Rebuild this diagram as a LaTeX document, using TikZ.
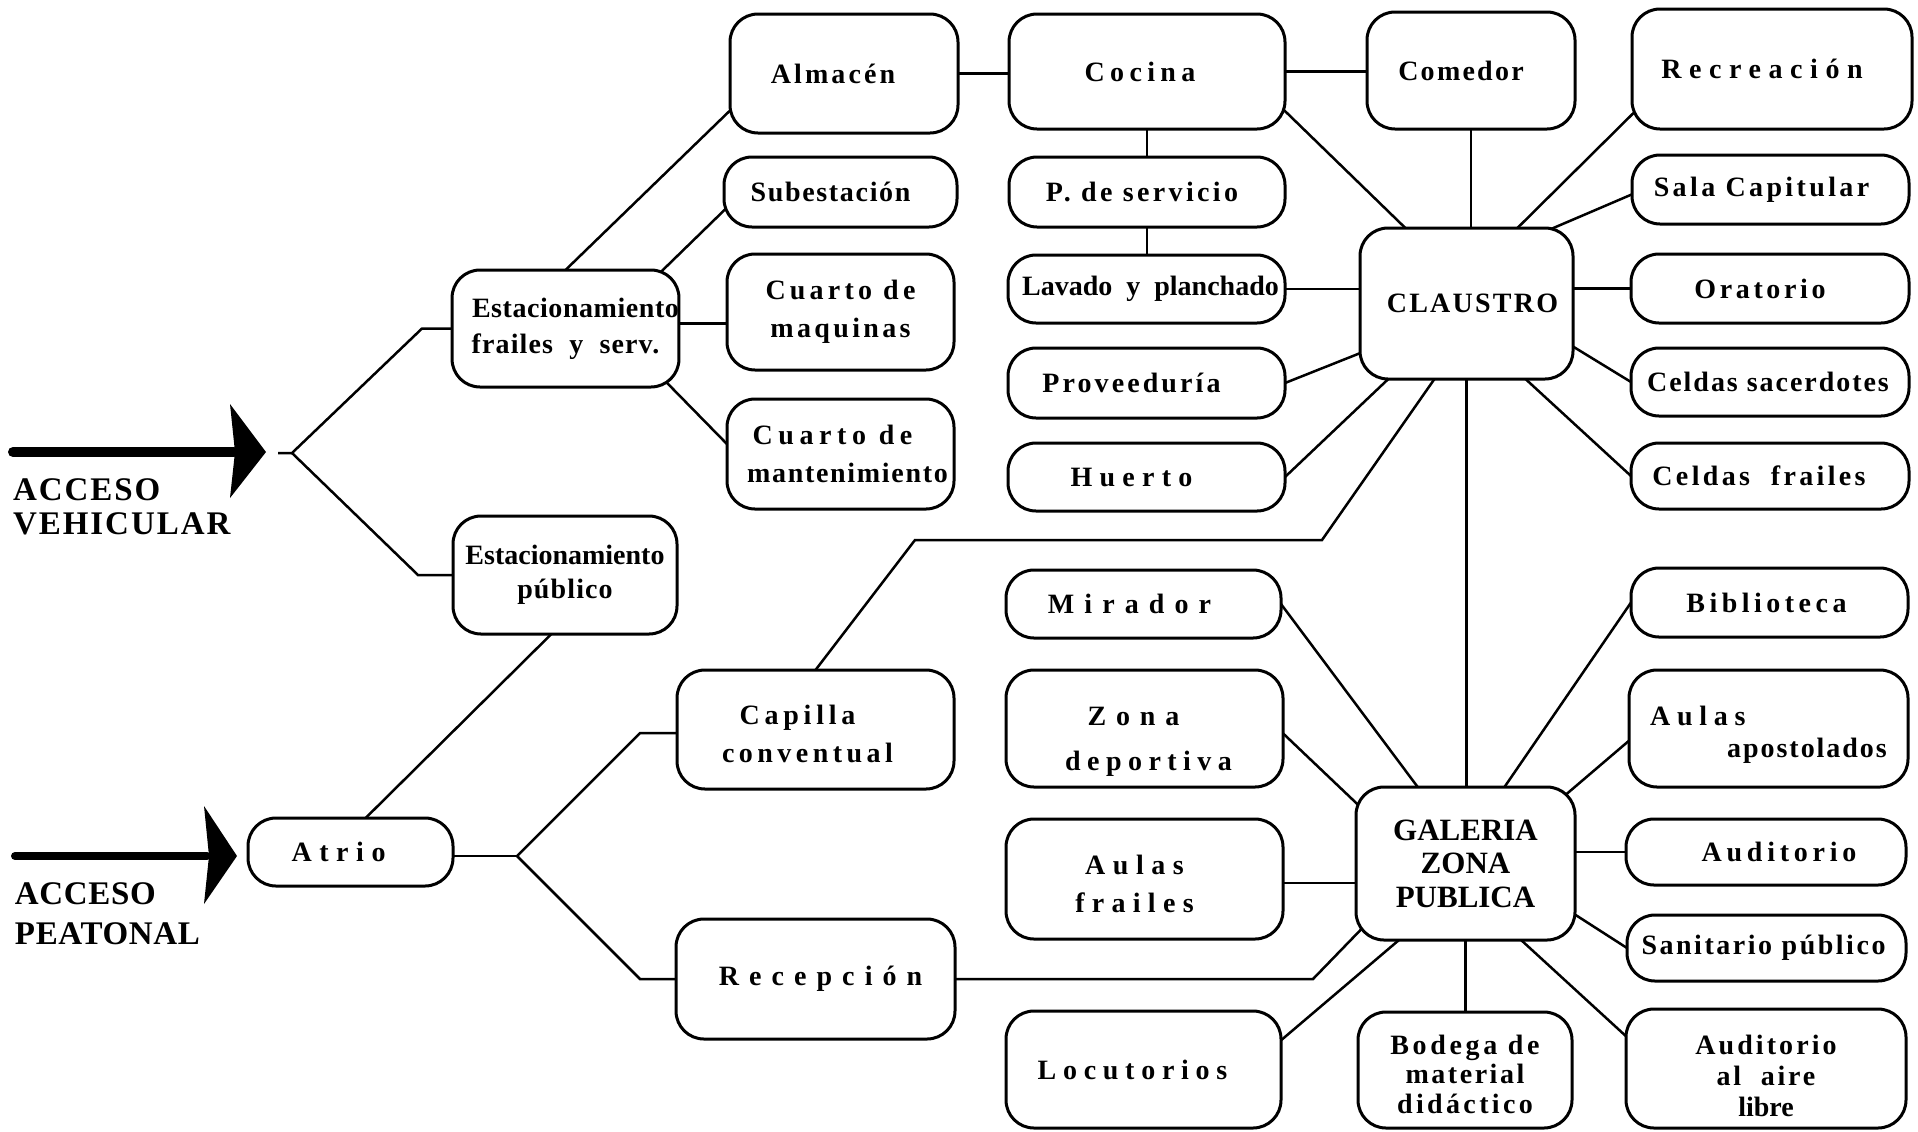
\documentclass[tikz,border=0pt]{standalone}
\usepackage{fontspec}
\setmainfont{Liberation Serif}
\usetikzlibrary{backgrounds,calc}
\newcommand\ls[1]{\addfontfeature{LetterSpace=#1}}
\newcommand\tl[2]{#2\hspace*{#1pt}}
\newcommand\tr[2]{\hspace*{#1pt}#2}
\newcommand\dn[1]{\rule{0pt}{#1pt}}
\newcommand\mybox[7][]{\node[bx,#1,minimum width={(#5-#3)*0.5pt},minimum height={(#6-#4)*0.5pt}] (#2) at ({(#3+#5)/2},{(#4+#6)/2}) {#7};}
\begin{document}
\begin{tikzpicture}[x=0.5pt,y=-0.5pt,
  bx/.style={draw,line width=1.5pt,rounded corners=14pt,fill=white,inner sep=0pt,outer sep=0pt,align=center,font=\fontsize{14}{19}\selectfont\bfseries},
  cn/.style={line width=1.25pt,shorten <=-6pt,shorten >=-6pt},
  ln/.style={line width=1.25pt},
  lbl/.style={inner sep=0pt,outer sep=0pt,align=left,anchor=north west,font=\fontsize{16.5}{17}\selectfont\bfseries}]
\useasboundingbox (0,0) rectangle (1918,1131);
% ---- boxes
\mybox{alm}{730}{14}{958}{133}{\tl{11}{\ls{11}Almacén}}
\mybox{sub}{724}{157}{957}{227}{\tl{10}{\ls{6}Subestación}}
\mybox{cmq}{727}{254}{954}{370}{{\ls{15}Cuarto de}\\{\ls{12}maquinas}}
\mybox{cmt}{727}{399}{954}{509}{\tl{8}{\ls{20}Cuarto de}\\\tr{7}{\ls{6}mantenimiento}}
\mybox[font=\fontsize{14}{18}\selectfont\bfseries]{estf}{453}{270}{678}{387}{\tr{10}{\ls{2}Estacionamiento}\\{\ls{4}frailes~~y~~serv.}}
\mybox[font=\fontsize{14}{17}\selectfont\bfseries]{estp}{453}{516}{677}{634}{Estacionamiento\\{\ls{4}público}}
\mybox{atrio}{248}{818}{453}{886}{\tl{12}{\ls{27}Atrio}}
\mybox{cap}{677}{670}{954}{789}{\dn{14.5}\tl{18}{\ls{17}Capilla}\\\tl{8}{\ls{16}conventual}}
\mybox{rec}{676}{919}{955}{1039}{\tr{5}{\ls{36}Recepción}}
\mybox{coc}{1009}{14}{1285}{129}{\tl{7}{\ls{19}Cocina}}
\mybox{com}{1367}{12}{1575}{129}{\tl{10}{\ls{8}Comedor}}
\mybox{rcr}{1632}{9}{1912}{129}{\tl{10}{\ls{27}Recreación}}
\mybox{psv}{1009}{157}{1285}{227}{\tl{5}{\ls{12}P. de servicio}}
\mybox{lav}{1008}{255}{1285}{323}{\tr{4}{Lavado~~y~~planchado}}
\mybox{clau}{1360}{228}{1573}{379}{\tr{6}{\ls{8}CLAUSTRO}}
\mybox{prv}{1008}{348}{1285}{418}{\tl{15}{\ls{11}Proveeduría}}
\mybox{hue}{1008}{443}{1285}{511}{\tl{15}{\ls{26}Huerto}}
\mybox{sal}{1632}{155}{1909}{224}{\tl{9}{\ls{12}Sala Capitular}}
\mybox{ora}{1631}{254}{1909}{323}{\tl{10}{\ls{13}Oratorio}}
\mybox{cds}{1631}{348}{1909}{416}{\tl{2}{\ls{7}Celdas sacerdotes}}
\mybox{cdf}{1631}{443}{1909}{509}{\tl{11}{\ls{12}Celdas~~frailes}}
\mybox{mir}{1006}{570}{1281}{638}{\tl{14}{\ls{36}Mirador}}
\mybox[font=\fontsize{14}{22.5}\selectfont\bfseries]{zon}{1006}{670}{1283}{787}{\dn{22}\tl{11}{\ls{35}Zona}\\\tr{4}{\ls{23}deportiva}}
\mybox{auf}{1006}{819}{1283}{939}{\dn{14.5}\tl{10}{\ls{27}Aulas}\\\tl{10}{\ls{26}frailes}}
\mybox{loc}{1006}{1011}{1281}{1128}{\tl{11}{\ls{24}Locutorios}}
\mybox[font=\fontsize{15.5}{16.75}\selectfont\bfseries]{gal}{1356}{787}{1575}{940}{GALERIA\\ZONA\\PUBLICA}
\mybox[font=\fontsize{14}{14.7}\selectfont\bfseries]{bod}{1358}{1012}{1572}{1128}{\dn{14}{\ls{13}Bodega de}\\{\ls{9}material}\\{\ls{12}didáctico}}
\mybox{bib}{1631}{568}{1908}{637}{\tl{3}{\ls{16}Biblioteca}}
\mybox[align=left,font=\fontsize{14}{16}\selectfont\bfseries]{aap}{1629}{670}{1908}{787}{\dn{15.5}{\ls{24}Aulas}\\\hspace*{38.5pt}{\ls{7}apostolados}}
\mybox{aud}{1626}{819}{1906}{885}{\tr{13}{\ls{17}Auditorio}}
\mybox{san}{1627}{915}{1906}{981}{\tl{3}{\ls{9}Sanitario público}}
\mybox[font=\fontsize{14}{15.5}\selectfont\bfseries]{aal}{1626}{1009}{1906}{1128}{\dn{17.5}{\ls{11}Auditorio}\\{\ls{10}al~~aire}\\libre}
% ---- access labels and arrows
\node[lbl] (av) at (13,479) {\addfontfeature{LetterSpace=6}ACCESO\\\addfontfeature{LetterSpace=6}VEHICULAR};
\node[lbl,font=\fontsize{16.5}{20}\selectfont\bfseries] (ap) at (15,883) {\addfontfeature{LetterSpace=2}ACCESO\\\addfontfeature{LetterSpace=2}PEATONAL};
\coordinate (av0) at (13,452);
\coordinate (av1) at (234,452);
\coordinate (ap0) at (15,856);
\coordinate (ap1) at (207,856);
\draw[line width=5pt,line cap=round] (av0) -- (av1);
\fill (230,404) -- (266,452) -- (230,498) -- (235,452) -- cycle;
\draw[line width=4pt,line cap=round] (ap0) -- (ap1);
\fill (204,806) -- (237,856) -- (204,904) -- (209,856) -- cycle;
% ---- junction points
\coordinate (vb0) at (278,453);
\coordinate (vb) at (292,453);
\coordinate (vb1) at (422,328.5);
\coordinate (vb2) at (418,575);
\coordinate (ab) at (517,856);
\coordinate (a1) at (640,733);
\coordinate (a2) at (640,979);
\coordinate (k1) at (915,540);
\coordinate (k2) at (1322,540);
\coordinate (r1) at (1313,979);
\coordinate (e1) at ([yshift=2.5pt]estf.east);
\coordinate (f1) at ([yshift=-2pt]auf.east);
% ---- connectors
\begin{pgfonlayer}{background}
\draw[cn] (alm.east) -- (alm.east -| coc.west);
\draw[cn] (coc.east) -- (coc.east -| com.west);
\draw[cn] (coc.south) -- (psv.north);
\draw[cn] (psv.south) -- (psv.south |- lav.north);
\draw[cn] (lav.east) -- (lav.east -| clau.west);
\draw[cn] (coc.-16) -- (clau.129);
\draw[cn] (com.south) -- (com.south |- clau.north);
\draw[cn] (rcr.198) -- (clau.56);
\draw[cn] (sal.182) -- (clau.41);
\draw[cn] (clau.east |- ora.west) -- (ora.west);
\draw[cn] (prv.east) -- (clau.205);
\draw[cn] (hue.east) -- (clau.224);
\draw[cn] (clau.-22) -- (cds.west);
\draw[cn] (clau.-52) -- (cdf.west);
\draw[cn] (clau.south) -- (clau.south |- gal.north);
\draw[cn] (cap.north) -- (k1) -- (k2) -- (clau.247);
\draw[cn] (estf.north) -- (alm.198);
\draw[cn] (estf.31) -- (sub.189);
\draw[cn] (e1) -- (e1 -| cmq.west);
\draw[cn] (estf.-29) -- (cmt.175);
\draw[ln,shorten >=-6pt] (vb0) -- (vb) -- (vb1) -- (estf.west);
\draw[ln,shorten >=-6pt] (vb) -- (vb2) -- (estp.west);
\draw[cn] (estp.257) -- (atrio.66);
\draw[ln,shorten <=-6pt] (ab -| atrio.east) -- (ab);
\draw[ln,shorten >=-6pt] (ab) -- (a1) -- (a1 -| cap.west);
\draw[ln,shorten >=-6pt] (ab) -- (a2) -- (a2 -| rec.west);
\draw[cn] (rec.east) -- (r1) -- (gal.213);
\draw[cn] (mir.east) -- (gal.122);
\draw[cn] (zon.-2) -- (gal.151);
\draw[cn] (f1) -- (f1 -| gal.west);
\draw[cn] (loc.12) -- (gal.229);
\draw[cn] (gal.south) -- (gal.south |- bod.north);
\draw[cn] (gal.-54) -- (aal.167);
\draw[cn] (gal.-25) -- (san.west);
\draw[cn] (gal.east |- aud.west) -- (aud.west);
\draw[cn] (gal.35) -- (aap.185);
\draw[cn] (gal.63) -- (bib.west);
\end{pgfonlayer}
\end{tikzpicture}
\end{document}
